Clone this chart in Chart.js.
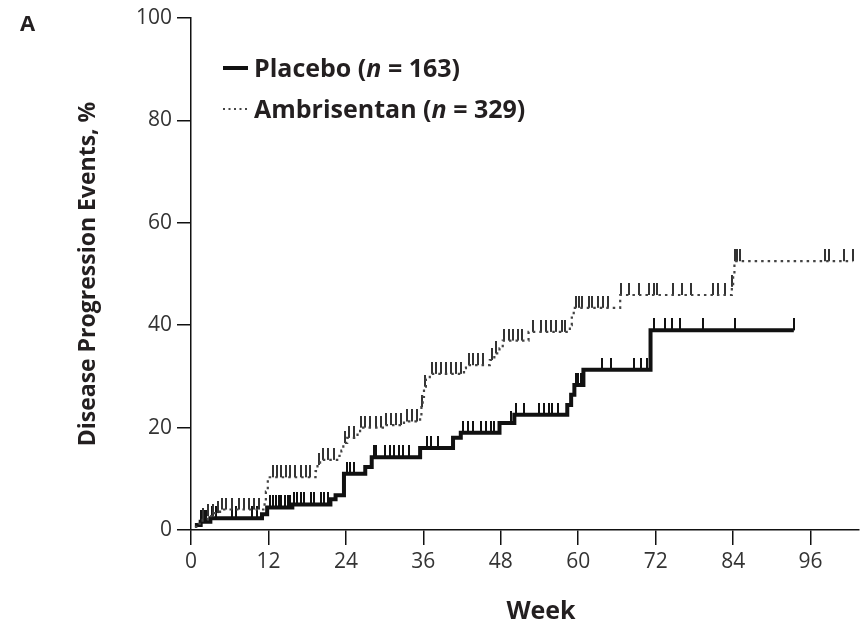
<!DOCTYPE html>
<html>
<head>
<meta charset="utf-8">
<script src="https://cdn.jsdelivr.net/npm/chart.js@4.4.1/dist/chart.umd.min.js"></script>
<style>
  html, body { margin: 0; padding: 0; background: #fff; }
  #wrap { width: 864px; height: 627px; }
</style>
</head>
<body>
<div id="wrap"><canvas id="chart" width="864" height="627"></canvas></div>
<script>
// Cumulative disease progression (%)
const placeboWeeks = [0.6, 1.5, 3.0, 11.0, 11.8, 15.7, 21.6, 22.4, 23.7, 27.0, 28.0, 35.5, 40.6, 41.8, 47.8, 50.1, 58.3, 58.9, 59.4, 60.8, 71.2, 93.4];
const placeboPct   = [1.0, 1.6, 2.3, 3.1, 4.4, 5.0, 6.0, 6.8, 11.0, 12.3, 14.2, 16.0, 18.0, 19.0, 20.9, 22.5, 24.4, 26.4, 28.3, 31.3, 39.0, 39.0];
const placeboCensor = [1.6, 2.0, 2.4, 3.3, 3.8, 6.3, 7.0, 9.4, 10.2, 12.2, 12.7, 13.2, 13.6, 14.0, 14.5, 15.0, 15.4,
  16.0, 16.5, 17.0, 17.5, 18.6, 19.0, 20.1, 20.6, 21.2, 24.2, 24.7, 25.3, 28.3, 28.7, 30.1, 30.9, 31.4, 32.2, 32.9,
  33.7, 36.5, 37.2, 38.3, 42.2, 42.9, 43.7, 45.0, 45.7, 46.5, 47.0, 49.6, 50.3, 51.6, 53.9, 54.7, 55.5, 56.0, 56.8,
  59.6, 60.0, 60.4, 63.7, 65.0, 68.6, 69.8, 70.6, 71.7, 73.4, 74.5, 75.7, 79.4, 84.3, 93.4];

const ambWeeks = [0.6, 1.2, 1.8, 2.6, 3.5, 4.5, 11.4, 11.6, 11.9, 12.2, 19.3, 19.6, 20.0, 23.0, 23.3, 23.6, 24.2, 25.8,
  26.2, 30.0, 33.0, 35.5, 35.7, 35.9, 36.1, 36.4, 37.0, 42.3, 42.6, 46.3, 47.0, 47.8, 48.3, 52.3, 58.7, 59.0, 59.3,
  66.5, 83.8, 84.0, 84.2, 102.5];
const ambPct = [0.6, 1.2, 2.0, 2.7, 3.3, 4.0, 5.5, 7.5, 9.8, 10.3, 11.5, 12.7, 13.7, 14.5, 15.5, 17.0, 18.0, 19.0,
  20.0, 20.5, 21.2, 22.0, 24.0, 26.0, 28.0, 29.5, 30.5, 31.6, 32.2, 33.2, 34.5, 35.5, 37.0, 38.7, 40.0, 41.5, 43.4,
  45.9, 47.5, 50.0, 52.5, 52.5];
const ambCensor = [1.9, 2.7, 3.4, 4.2, 4.8, 5.5, 6.3, 7.4, 8.2, 9.0, 9.8, 10.5, 12.7, 13.3, 14.0, 14.7, 15.4, 16.1,
  17.0, 17.8, 18.5, 19.8, 20.5, 21.3, 22.1, 23.8, 24.5, 25.3, 26.4, 27.0, 27.8, 28.6, 29.4, 30.2, 31.0, 31.8, 32.6,
  33.4, 34.2, 35.0, 35.8, 36.2, 37.3, 38.0, 38.7, 39.5, 40.3, 41.1, 41.8, 43.0, 43.7, 44.4, 45.2, 46.6, 47.3, 48.5,
  49.3, 49.9, 50.6, 51.3, 53.0, 54.3, 55.0, 55.8, 56.5, 57.5, 58.0, 59.6, 60.1, 60.6, 61.7, 62.2, 63.0, 63.8, 64.6,
  66.6, 67.9, 69.4, 71.0, 71.7, 72.2, 74.7, 76.0, 77.5, 80.9, 81.7, 82.8, 83.8, 84.3, 84.6, 85.1, 98.3, 98.8,
  101.2, 102.5];

const xTicks = [0, 12, 24, 36, 48, 60, 72, 84, 96];
const yTicks = [0, 20, 40, 60, 80, 100];

const FONT = "'Open Sans', 'DejaVu Sans', sans-serif";
const INK = '#231f20';

function toXY(weeks, pct) {
    return weeks.map((w, i) => ({ x: w, y: pct[i] }));
}

// censor marks sit on the curve: look up the step level at that week
function censorXY(times, weeks, pct) {
    return times.map(t => {
        let v = 0;
        weeks.forEach((w, i) => { if (w <= t) v = pct[i]; });
        return { x: t, y: v };
    });
}

// small upward tick used as the censor point style
function censorMark(color) {
    const c = document.createElement('canvas');
    c.width = 2;
    c.height = 24;
    const g = c.getContext('2d');
    g.fillStyle = color;
    g.fillRect(0, 0, 2, 12);
    return c;
}

// Panel letter, x title and legend (italic n)
const legendPlugin = {
    id: 'kmLegend',
    afterDraw(chart) {
        const ctx = chart.ctx;
        ctx.save();
        ctx.fillStyle = INK;
        ctx.textBaseline = 'alphabetic';
        ctx.font = `bold 22px ${FONT}`;
        ctx.fillText('A', 20, 31);

        ctx.font = `bold 25px ${FONT}`;
        ctx.textAlign = 'center';
        ctx.fillText('Week', 541, 619);
        ctx.textAlign = 'left';

        const rows = [
            { y: 68, dash: [], width: 4, color: '#111', parts: ['Placebo (', 'n', ' = 163)'] },
            { y: 109, dash: [2, 3.5], width: 2.2, color: '#444', parts: ['Ambrisentan (', 'n', ' = 329)'] }
        ];
        rows.forEach(r => {
            ctx.beginPath();
            ctx.setLineDash(r.dash);
            ctx.lineWidth = r.width;
            ctx.strokeStyle = r.color;
            ctx.moveTo(223, r.y);
            ctx.lineTo(248, r.y);
            ctx.stroke();
            ctx.setLineDash([]);

            let x = 254;
            r.parts.forEach((p, i) => {
                ctx.font = (i === 1 ? 'italic ' : '') + `bold 25px ${FONT}`;
                ctx.fillText(p, x, r.y + 9);
                x += ctx.measureText(p).width;
            });
        });
        ctx.restore();
    }
};

new Chart(document.getElementById('chart'), {
    type: 'line',
    data: {
        datasets: [
            {
                label: 'Ambrisentan',
                data: toXY(ambWeeks, ambPct),
                stepped: true,
                borderColor: '#444',
                borderWidth: 2.2,
                borderDash: [2.5, 4],
                pointRadius: 0,
                fill: false
            },
            {
                label: 'Placebo',
                data: toXY(placeboWeeks, placeboPct),
                stepped: true,
                borderColor: '#111',
                borderWidth: 4,
                borderJoinStyle: 'miter',
                pointRadius: 0,
                fill: false
            },
            {
                label: 'Ambrisentan censored',
                data: censorXY(ambCensor, ambWeeks, ambPct),
                showLine: false,
                pointStyle: censorMark('#333'),
                pointRadius: 2
            },
            {
                label: 'Placebo censored',
                data: censorXY(placeboCensor, placeboWeeks, placeboPct),
                showLine: false,
                pointStyle: censorMark('#111'),
                pointRadius: 2
            }
        ]
    },
    options: {
        responsive: false,
        animation: false,
        layout: { padding: { top: 18, right: 0, bottom: 0, left: 0 } },
        plugins: {
            legend: { display: false },
            tooltip: { enabled: false }
        },
        scales: {
            x: {
                type: 'linear',
                min: 0,
                max: 103.5,
                afterBuildTicks: s => { s.ticks = xTicks.map(v => ({ value: v })); },
                afterFit: s => { s.height = 97; },
                border: { display: true, color: '#111', width: 1.5 },
                grid: { drawOnChartArea: false, tickLength: 15, color: '#111', lineWidth: 1.5 },
                ticks: { color: '#333', font: { family: FONT, size: 21 }, padding: 4, maxRotation: 0 },
                title: { display: false }
            },
            y: {
                min: 0,
                max: 100,
                afterBuildTicks: s => { s.ticks = yTicks.map(v => ({ value: v })); },
                afterFit: s => { s.width = 191; },
                border: { display: true, color: '#111', width: 1.5 },
                grid: { drawOnChartArea: false, tickLength: 14, color: '#111', lineWidth: 1.5 },
                ticks: { color: '#333', font: { family: FONT, size: 21 }, padding: 5 },
                title: {
                    display: true,
                    text: 'Disease Progression Events, %',
                    color: INK,
                    font: { family: FONT, size: 23, weight: 'bold' },
                    padding: { top: 75 }
                }
            }
        }
    },
    plugins: [legendPlugin]
});
</script>
</body>
</html>
